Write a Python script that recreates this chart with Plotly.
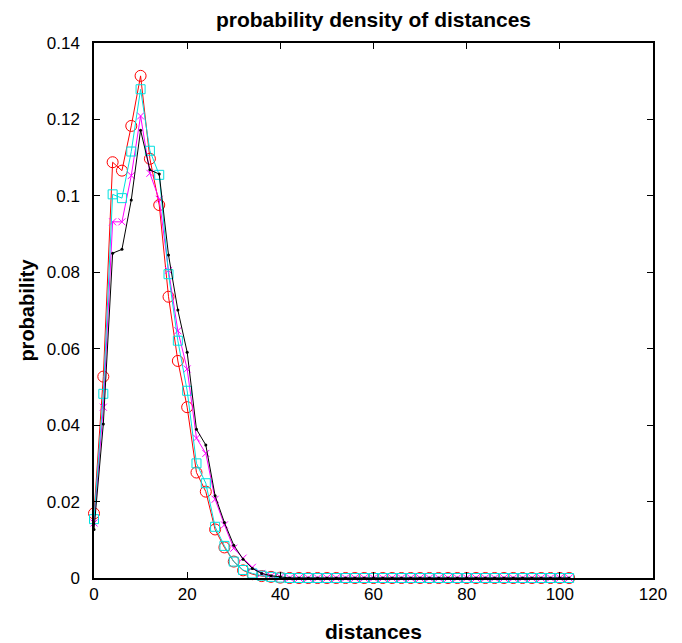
import plotly.graph_objects as go

# distances (x positions of samples)
distances = [0, 2, 4, 6, 8, 10, 12, 14, 16, 18, 20, 22, 24, 26, 28, 30, 32, 34, 36, 38,
             40, 42, 44, 46, 48, 50, 52, 54, 56, 58, 60, 62, 64, 66, 68, 70, 72, 74, 76, 78,
             80, 82, 84, 86, 88, 90, 92, 94, 96, 98, 100, 102]

tail_zeros = [0.0] * 31  # x = 42 .. 102, values read as ~0

red_circles = [0.0169, 0.0527, 0.1088, 0.1066, 0.1183, 0.1314, 0.1097, 0.0976, 0.0736, 0.0568,
               0.0447, 0.0276, 0.0226, 0.0127, 0.0080, 0.0043, 0.0020, 0.0010, 0.0005, 0.0003,
               0.0001] + tail_zeros
magenta_x = [0.0144, 0.0447, 0.0932, 0.0932, 0.1053, 0.1209, 0.1059, 0.0991, 0.0805, 0.0647,
             0.0547, 0.0366, 0.0326, 0.0206, 0.0139, 0.0078, 0.0052, 0.0028, 0.0012, 0.0005,
             0.0002] + tail_zeros
cyan_squares = [0.0154, 0.0482, 0.1004, 0.0994, 0.1116, 0.1279, 0.1118, 0.1055, 0.0795, 0.0621,
                0.0490, 0.0300, 0.0248, 0.0134, 0.0084, 0.0043, 0.0021, 0.0012, 0.0006, 0.0003,
                0.0001] + tail_zeros
black_dots = [0.0127, 0.0403, 0.0850, 0.0860, 0.0989, 0.1172, 0.1068, 0.1057, 0.0845, 0.0701,
              0.0591, 0.0389, 0.0348, 0.0215, 0.0145, 0.0086, 0.0049, 0.0025, 0.0012, 0.0006,
              0.0003] + tail_zeros

x_ticks = [0, 20, 40, 60, 80, 100, 120]
x_tick_labels = ["0", "20", "40", "60", "80", "100", "120"]
y_ticks = [0, 0.02, 0.04, 0.06, 0.08, 0.1, 0.12, 0.14]
y_tick_labels = ["0", "0.02", "0.04", "0.06", "0.08", "0.1", "0.12", "0.14"]

FONT = "Liberation Sans, Arial, sans-serif"

fig = go.Figure()
fig.add_trace(go.Scatter(
    x=distances, y=red_circles, mode="lines+markers",
    line=dict(color="#ff0000", width=1),
    marker=dict(symbol="circle-open", size=11, color="#ff0000", line=dict(width=1)),
    cliponaxis=False, showlegend=False))
fig.add_trace(go.Scatter(
    x=distances, y=magenta_x, mode="lines+markers",
    line=dict(color="#ff00ff", width=1),
    marker=dict(symbol="x-thin-open", size=7, color="#ff00ff", line=dict(width=1, color="#ff00ff")),
    cliponaxis=False, showlegend=False))
fig.add_trace(go.Scatter(
    x=distances, y=cyan_squares, mode="lines+markers",
    line=dict(color="#00e0e0", width=1),
    marker=dict(symbol="square-open", size=9, color="#00e0e0", line=dict(width=1)),
    cliponaxis=False, showlegend=False))
fig.add_trace(go.Scatter(
    x=distances, y=black_dots, mode="lines+markers",
    line=dict(color="#000000", width=1),
    marker=dict(symbol="circle", size=3, color="#000000"),
    cliponaxis=False, showlegend=False))

axis_common = dict(
    showline=True, linecolor="black", linewidth=1.5, mirror="allticks",
    ticks="inside", ticklen=6, tickwidth=1.2, tickcolor="black",
    showgrid=False, zeroline=False, automargin=False,
    tickfont=dict(family=FONT, size=17, color="black"),
)

fig.update_layout(
    width=682, height=643,
    margin=dict(l=94, r=29, t=43, b=65),
    paper_bgcolor="white", plot_bgcolor="white",
    title=dict(text="<b>probability density of distances</b>",
               font=dict(family=FONT, size=21, color="black"),
               x=(94 + 653) / 2 / 682, xanchor="center",
               y=1 - 20 / 643, yanchor="middle", yref="container"),
    xaxis=dict(range=[0, 120], tickvals=x_ticks, ticktext=x_tick_labels,
               ticklabelstandoff=0,
               title=dict(text="<b>distances</b>", font=dict(family=FONT, size=21, color="black"),
                          standoff=22),
               **axis_common),
    yaxis=dict(range=[0, 0.14], tickvals=y_ticks, ticktext=y_tick_labels,
               ticklabelstandoff=9,
               title=dict(text="<b>probability</b>", font=dict(family=FONT, size=20, color="black"),
                          standoff=7),
               **axis_common),
)

fig.write_html("out.html")
